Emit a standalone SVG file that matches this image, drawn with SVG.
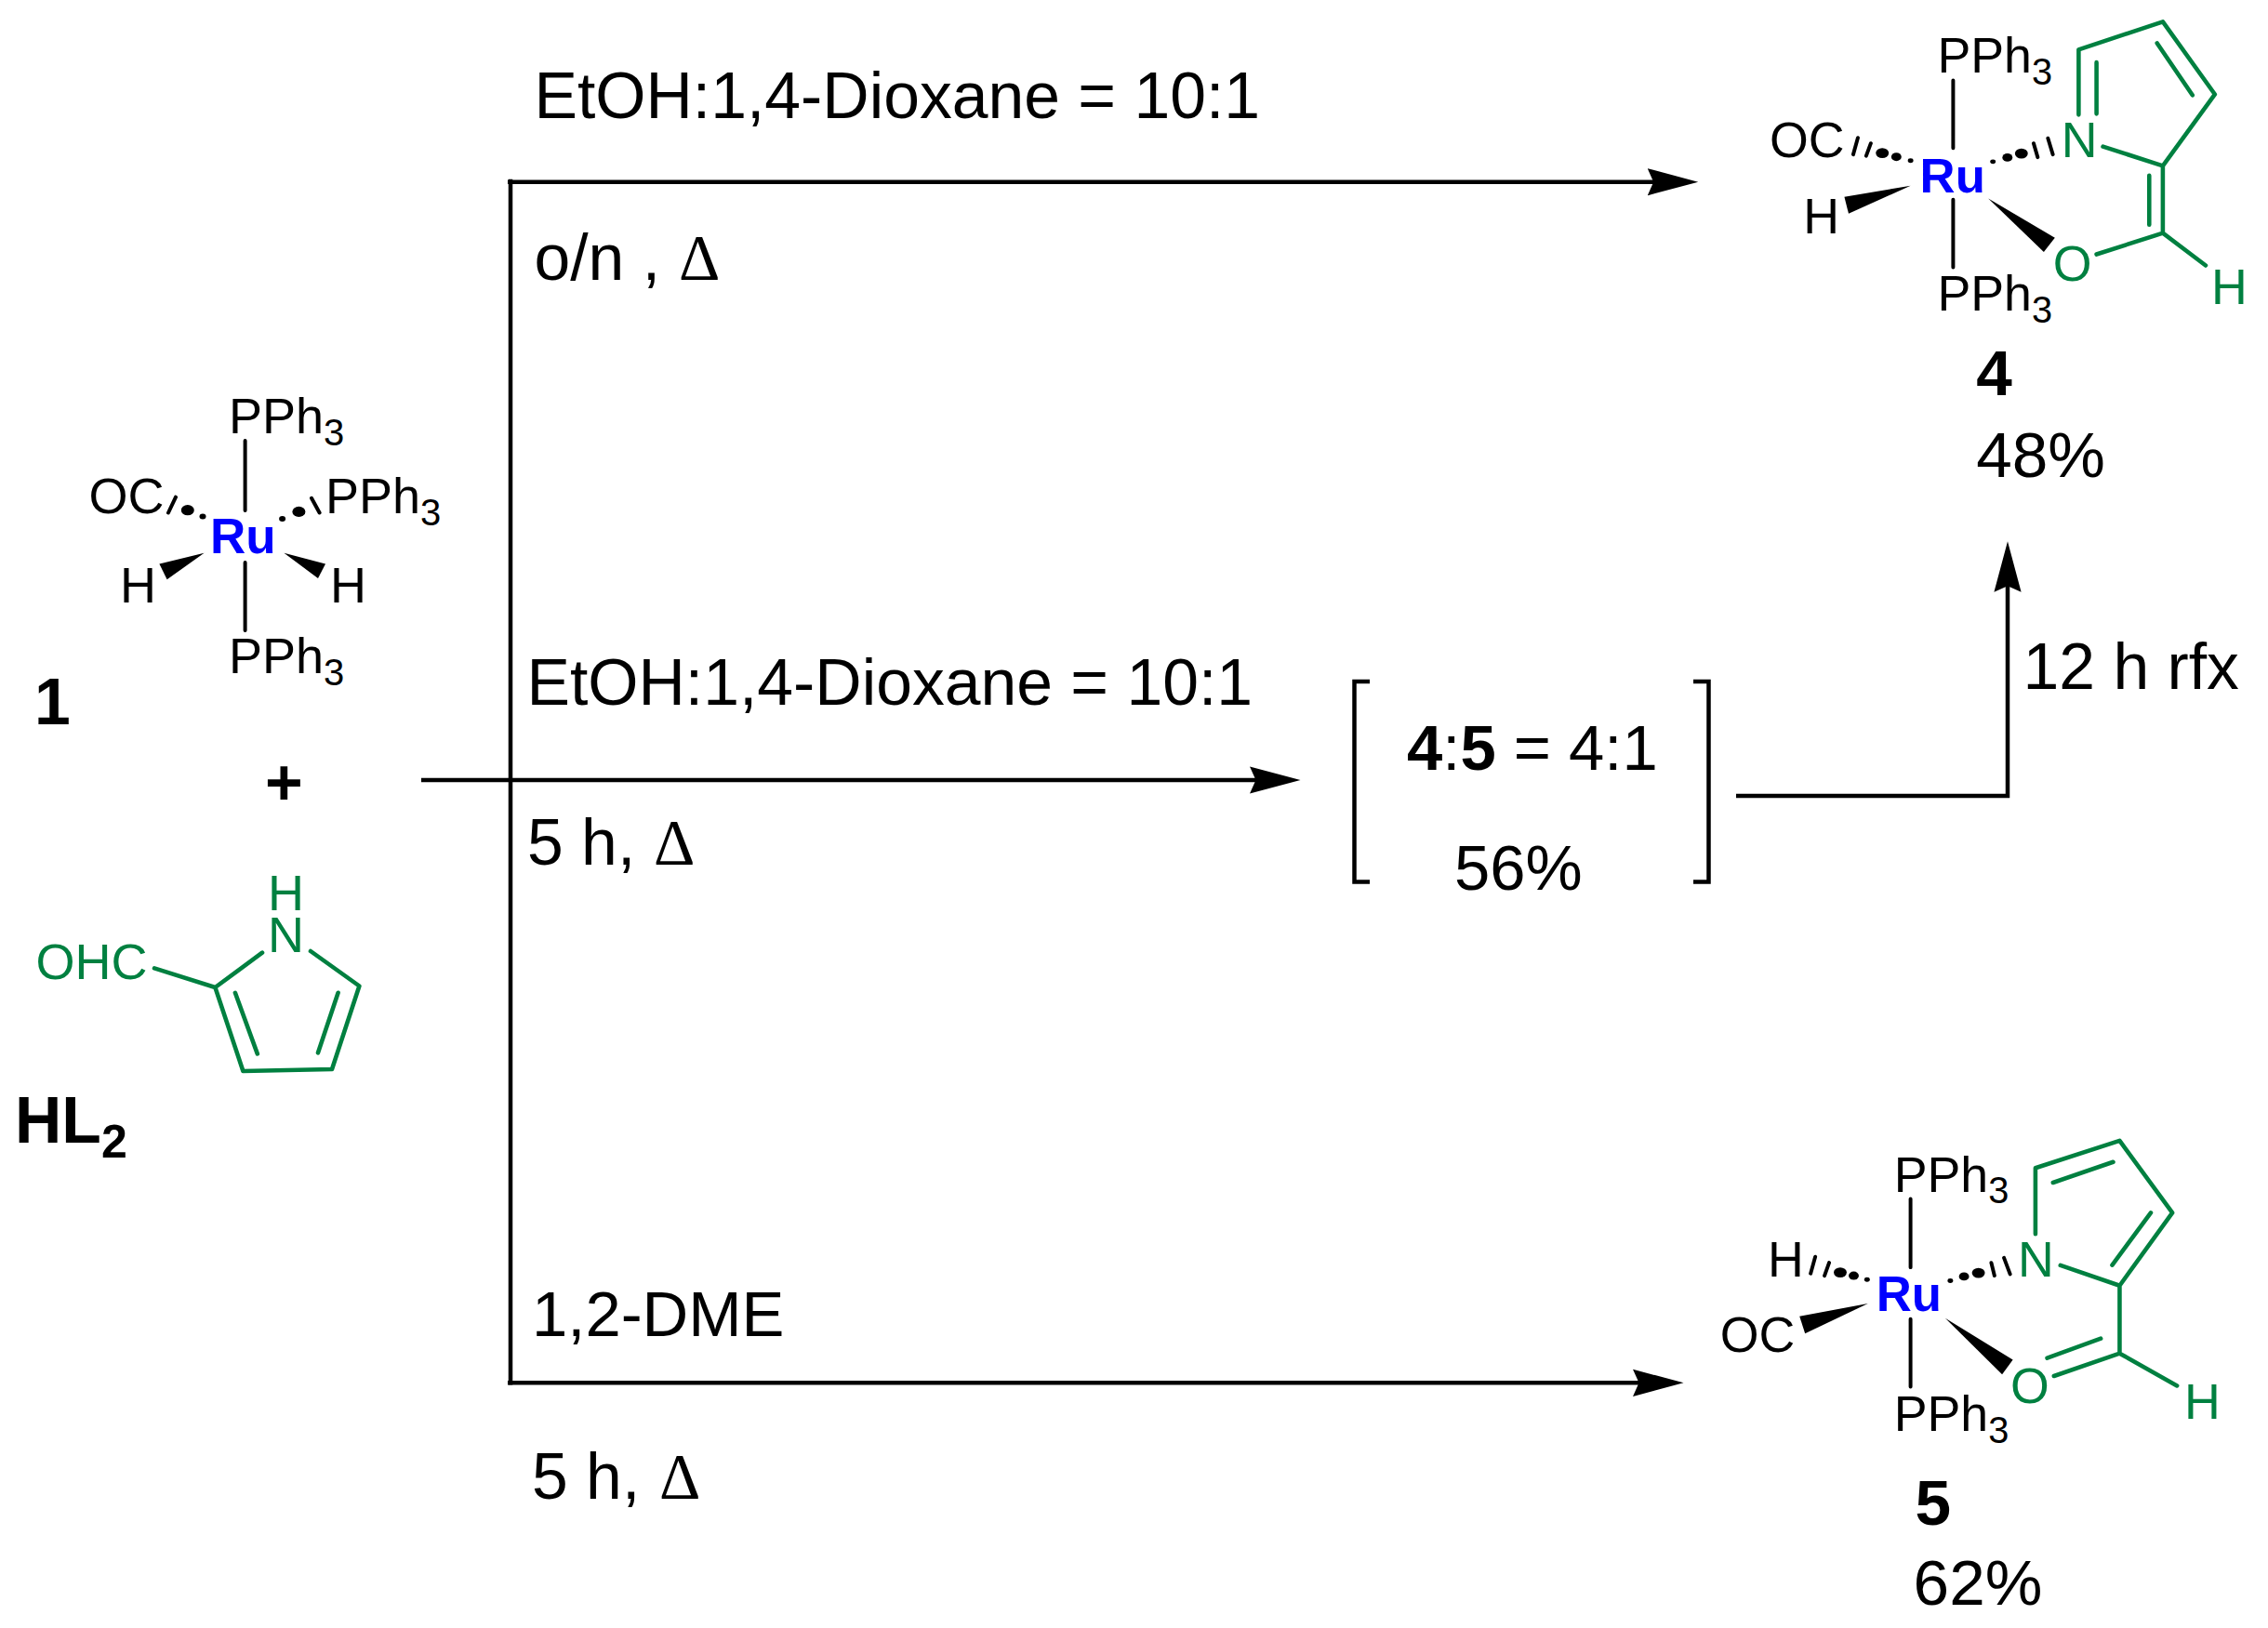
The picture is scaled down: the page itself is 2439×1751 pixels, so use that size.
<svg xmlns="http://www.w3.org/2000/svg" width="2439" height="1751" viewBox="0 0 2439 1751">
<style>
text{font-family:"Liberation Sans",Arial,sans-serif;fill:#000}
.t{font-size:69.700px}
.m{font-size:68.800px}
.d{font-family:"Liberation Serif","Times New Roman",serif;font-size:69px}
.b{font-weight:700}
.c{font-size:54px}
.s{font-size:40px}
.g{fill:#008040}
.ru{font-size:53px;font-weight:700;fill:#0000ff}
.bond{fill:none;stroke:#000;stroke-width:4;stroke-linecap:round}
.ring{fill:none;stroke:#008040;stroke-width:4.600;stroke-linecap:round;stroke-linejoin:round}
.conn{fill:none;stroke:#000;stroke-width:4.500;stroke-linejoin:miter}
.brk{fill:none;stroke:#000;stroke-width:4.500}
</style>
<defs>
<marker id="head" markerUnits="userSpaceOnUse" viewBox="0 -16 56 32" refX="10" refY="0" markerWidth="56" markerHeight="32" orient="auto">
<path d="M0,-14.6L54.5,0L0,14.6L6.5,0Z" fill="#000"/>
</marker>
</defs>
<rect width="2439" height="1751" fill="#fff"/>

<g id="connectors">
<path class="conn" d="M549,192.700V1489.500"/>
<path class="conn" d="M546,195.700H1781.700" marker-end="url(#head)"/>
<path class="conn" d="M453,839H1354" marker-end="url(#head)"/>
<path class="conn" d="M546,1487.300H1766" marker-end="url(#head)"/>
<path class="conn" d="M1867,856H2159V626.700" marker-end="url(#head)"/>
</g>

<g id="cond-top">
<text class="t" x="574.500" y="127.300">EtOH:1,4-Dioxane = 10:1</text>
<text class="t" x="574.500" y="301">o/n ,</text>
<text class="d" x="730" y="301">Δ</text>
</g>
<g id="cond-mid">
<text class="t" x="566.500" y="758.300">EtOH:1,4-Dioxane = 10:1</text>
<text class="t" x="567" y="930">5 h,</text>
<text class="d" x="703" y="930">Δ</text>
</g>
<g id="cond-bottom">
<text class="m" x="572" y="1437">1,2-DME</text>
<text class="t" x="572" y="1611.700">5 h,</text>
<text class="d" x="709" y="1611.700">Δ</text>
</g>
<g id="cond-rfx"><text class="t" x="2175.500" y="741">12 h rfx</text></g>

<g id="mixture">
<path class="brk" d="M1473,733H1456.500V948.500H1473"/>
<path class="brk" d="M1821,733H1837.500V948.500H1821"/>
<text class="m" x="1513" y="828"><tspan class="b">4</tspan>:<tspan class="b">5</tspan> = 4:1</text>
<text class="m" x="1564" y="957">56%</text>
</g>

<g id="compound-1">
<path class="bond" d="M263.600,474V549M263.600,605V678M189,534.700L181,551.500M335,535.800L343.600,551.500"/>
<ellipse cx="201.800" cy="548.700" rx="7" ry="5.600"/>
<ellipse cx="218" cy="555.400" rx="3.500" ry="3"/>
<ellipse cx="321.400" cy="550.400" rx="7" ry="5.600"/>
<ellipse cx="303.600" cy="558" rx="3.500" ry="3"/>
<polygon points="219.600,594.700 171.400,606.500 179.600,623.300"/>
<polygon points="305.400,594.700 350,606.500 342,622"/>
<text class="ru" x="226" y="595">Ru</text>
<text class="c" x="246" y="466">PPh<tspan class="s" dy="13">3</tspan></text>
<text class="c" x="350" y="552">PPh<tspan class="s" dy="13">3</tspan></text>
<text class="c" x="246" y="724">PPh<tspan class="s" dy="13">3</tspan></text>
<text class="c" x="95.500" y="552">OC</text>
<text class="c" x="129" y="648">H</text>
<text class="c" x="355" y="648">H</text>
<text class="t b" x="37" y="779">1</text>
</g>

<g id="plus"><text class="t b" x="285" y="866">+</text></g>

<g id="ligand-HL2">
<path class="ring" d="M166,1041.400L231.400,1062L282,1024.600M334,1023L386.400,1060.500L357,1150L261.400,1152L231.400,1062M252.900,1067.800L276.800,1133.400M363.600,1067.800L342,1132.300"/>
<text class="c g" x="288" y="979">H</text>
<text class="c g" x="288" y="1024">N</text>
<text class="c g" x="38.500" y="1053">OHC</text>
<text class="t b" x="16" y="1229">HL<tspan font-size="50" dy="16">2</tspan></text>
</g>

<g id="compound-4" transform="matrix(.9947 0 0 .9947 9.540 0)">
<path class="bond" d="M2102,87V160M2102,216V289M1999,149L1994,167M2013,155L2008,168.500M2189,155L2193.400,170M2204.500,149.500L2209.800,167"/>
<ellipse cx="2025.400" cy="165.500" rx="7" ry="5.500"/>
<ellipse cx="2040.600" cy="169.600" rx="5.500" ry="4.500"/>
<ellipse cx="2056" cy="173.700" rx="3" ry="2.500"/>
<ellipse cx="2145" cy="174.800" rx="3" ry="2.500"/>
<ellipse cx="2160.700" cy="170.300" rx="5.500" ry="4.500"/>
<ellipse cx="2175.800" cy="166" rx="7" ry="5.500"/>
<polygon points="2056,200.800 1984.400,213 1989,231"/>
<polygon points="2140,214.600 2212,257 2200,272.400"/>
<path class="ring" d="M2237.700,124V53.600L2328.700,23.500L2385,102L2328.700,179.300L2264,158.500M2257,67.500V123M2322.500,46.700L2360.700,102.800M2328.700,179.300V252L2257,275M2314,189.700V243M2328.700,252L2375,287"/>
<text class="ru" x="2066" y="208">Ru</text>
<text class="c" x="2085" y="78">PPh<tspan class="s" dy="13">3</tspan></text>
<text class="c" x="2085" y="336">PPh<tspan class="s" dy="13">3</tspan></text>
<text class="c" x="1903.500" y="170">OC</text>
<text class="c" x="1940" y="252">H</text>
<text class="c g" x="2219" y="170">N</text>
<text class="c g" x="2210" y="304">O</text>
<text class="c g" x="2381" y="329">H</text>
<text class="t b" x="2127" y="427">4</text>
<text class="t" x="2127" y="516">48%</text>
</g>

<g id="compound-5" transform="matrix(.9949 0 0 .9947 9.080 6.360)">
<path class="bond" d="M2056,1290V1364M2056,1420V1493M1953,1352.600L1948,1370.600M1968,1359L1963,1373M2143.300,1359L2146.700,1373M2157,1353.700L2163.600,1371.300"/>
<ellipse cx="1980" cy="1369.500" rx="7" ry="5.500"/>
<ellipse cx="1994.600" cy="1373" rx="5.500" ry="4.500"/>
<ellipse cx="2009" cy="1377.300" rx="3" ry="2.500"/>
<ellipse cx="2099" cy="1378.400" rx="3" ry="2.500"/>
<ellipse cx="2113.800" cy="1373.800" rx="5.500" ry="4.500"/>
<ellipse cx="2129.400" cy="1370" rx="7" ry="5.500"/>
<polygon points="2010,1403 1936,1417 1942,1435.600"/>
<polygon points="2093.500,1419 2166.600,1464 2155,1479.800"/>
<path class="ring" d="M2191,1328V1256.500L2282,1227L2339,1305L2282,1383.700L2218,1361.800M2210,1272.400L2275,1250M2315.700,1305L2274,1361.400M2282,1383.700V1457L2211,1481.500M2261.600,1441L2203.700,1462M2282,1457L2344,1492"/>
<text class="ru" x="2019" y="1411">Ru</text>
<text class="c" x="2038" y="1282">PPh<tspan class="s" dy="13">3</tspan></text>
<text class="c" x="2038" y="1541">PPh<tspan class="s" dy="13">3</tspan></text>
<text class="c" x="1901.500" y="1374">H</text>
<text class="c" x="1850" y="1455">OC</text>
<text class="c g" x="2172" y="1374">N</text>
<text class="c g" x="2164" y="1511">O</text>
<text class="c g" x="2352" y="1528">H</text>
<text class="t b" x="2061" y="1642">5</text>
<text class="t" x="2059" y="1729">62%</text>
</g>
</svg>
